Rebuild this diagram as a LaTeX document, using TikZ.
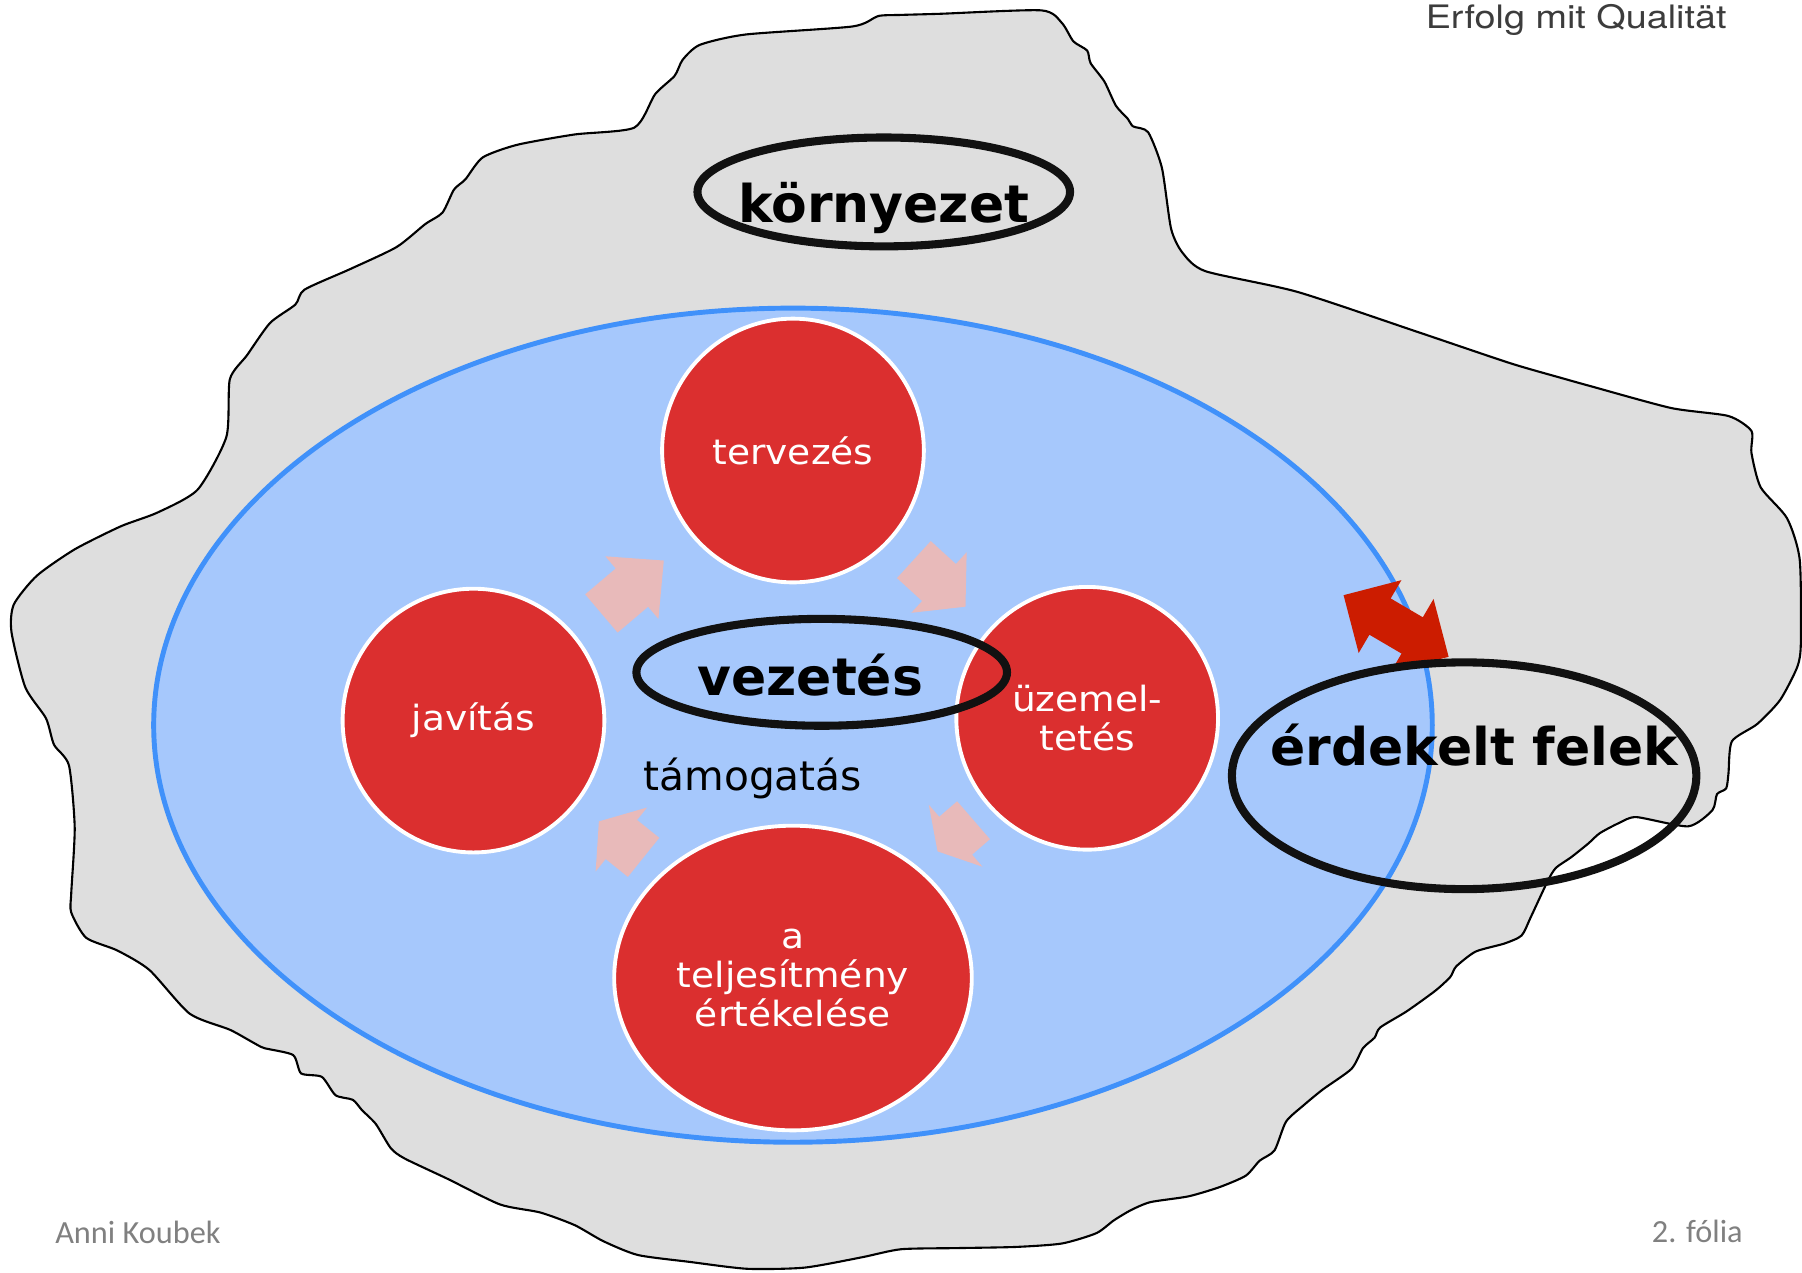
\documentclass[tikz,border=0pt]{standalone}
\usepackage{fontspec}
\setmainfont{DejaVu Sans}
\newfontfamily\circfont[FakeStretch=1.08]{DejaVu Sans}
\newfontfamily\footfont{Carlito}
\newfontfamily\headfont[FakeStretch=1.17]{TeX Gyre Heros}
\usepackage{tikz}
\usetikzlibrary{positioning, shapes.geometric}
\definecolor{blobgray}{RGB}{222,222,222}
\definecolor{orgblue}{RGB}{166,200,252}
\definecolor{orgline}{RGB}{64,145,250}
\definecolor{circred}{RGB}{219,47,47}
\definecolor{pinkarr}{RGB}{232,186,186}
\definecolor{darkred}{RGB}{204,28,0}
\definecolor{ringblack}{RGB}{17,17,17}
\definecolor{footgray}{RGB}{128,128,128}
\definecolor{headgray}{RGB}{60,60,60}

\begin{document}
\begin{tikzpicture}[x=0.0115cm, y=-0.0115cm,
            blob/.style={fill=blobgray, draw=black, line width=0.6pt},
            org/.style={ellipse, fill=orgblue, draw=orgline, line width=1.4pt,
              inner sep=0pt, minimum width=12.8cm, minimum height=8.35cm},
            circ/.style={ellipse, fill=circred, draw=white, line width=1.1pt,
              inner sep=0pt, text=white, align=center,
              font=\circfont\fontsize{9.9}{11.1}\selectfont},
            ring/.style={ellipse, draw=ringblack, line width=2.3pt, inner sep=0pt},
            bigword/.style={font=\fontsize{14.8}{17}\selectfont\bfseries,
              inner sep=0pt, anchor=base},
            foot/.style={font=\footfont\fontsize{9.2}{11}\selectfont,
              text=footgray, inner sep=0pt},
            pics/blockarrow/.style 2 args={code={
              \fill[pinkarr] (0,-21.8) -- (#1,-21.8) -- (#1,-35.7) -- ({#1+#2},0)
                -- (#1,35.7) -- (#1,21.8) -- (0,21.8) -- cycle;}}]
          \useasboundingbox (0,0) rectangle (1568,1107);
          % surroundings
          \draw[blob] plot[smooth cycle, tension=0.4] coordinates {
            (552,111) (570,82) (587,66) (594,52) (609,39) (649,30) (742,23)
            (764,14) (783,13) (818,12) (906,9) (924,20) (934,36) (946,44)
            (949,55) (961,71) (971,92) (981,103) (986,110) (999,115) (1011,146)
            (1019,199) (1029,220) (1049,236) (1129,254) (1234,289) (1314,316)
            (1359,329) (1384,336) (1454,355) (1504,362) (1524,375) (1524,394)
            (1532,424) (1555,451) (1566,487) (1567,559) (1564,580) (1549,609)
            (1529,630) (1507,645) (1504,673) (1502,686) (1494,691) (1490,705)
            (1469,719) (1424,711) (1409,716) (1392,725) (1382,734) (1367,746)
            (1354,755) (1347,766) (1332,798) (1324,814) (1309,821) (1284,828)
            (1267,841) (1262,850) (1249,862) (1224,880) (1201,894) (1196,903)
            (1186,912) (1176,930) (1151,948) (1134,962) (1119,976) (1109,1001)
            (1096,1010) (1084,1023) (1061,1033) (1034,1041) (1001,1046)
            (984,1053) (969,1062) (954,1073) (924,1082) (884,1085) (833,1086)
            (784,1087) (750,1094) (700,1103) (650,1104) (600,1098) (555,1092)
            (525,1080) (500,1066) (470,1055) (435,1048) (390,1026) (352,1008)
            (340,999) (327,978) (315,966) (307,957) (292,953) (280,937)
            (262,934) (255,918) (230,912) (220,907) (200,896) (165,882)
            (130,844) (102,827) (75,816) (62,794) (62,777) (65,720) (60,666)
            (47,648) (40,625) (22,598) (10,550) (12,526) (32,501) (65,478)
            (105,458) (137,446) (172,426) (197,380) (200,330) (215,309)
            (235,281) (257,265) (265,252) (305,234) (345,215) (370,195)
            (385,185) (395,165) (405,156) (420,137) (450,126) (500,117)};
          % organisation and the cycle
          \node[org] (org) at (690,631) {};
          \node[circ, minimum width=2.62cm, minimum height=2.64cm] (plan) at (690,392) {tervezés};
          \node[circ, minimum width=2.62cm, minimum height=2.64cm] (fix) at (412,627) {javítás};
          \node[circ, minimum width=2.62cm, minimum height=2.63cm] (run) at (946,625) {üzemel-\\tetés};
          \node[circ, minimum width=3.58cm, minimum height=3.05cm] (eval) at (690,851) {a\\teljesítmény\\értékelése};
          \pic[rotate=40.3] at (523.3,533.8) {blockarrow={34.8}{36.4}};
          \pic[rotate=-42.4] at (795.2,486.9) {blockarrow={29.6}{31.2}};
          \pic[rotate=-139.1] at (847.1,713.7) {blockarrow={20.6}{20.8}};
          \pic[rotate=141.2] at (560,746) {blockarrow={24.8}{25.1}};
          % exchange with the interested parties
          \fill[darkred, shift={(1214.8,544.7)}, rotate=-30.4]
            (-53,0) -- (-16.2,36.75) -- (-16.2,18.3) -- (16.2,18.3) -- (16.2,36.75)
            -- (53,0) -- (16.2,-36.75) -- (16.2,-18.3) -- (-16.2,-18.3)
            -- (-16.2,-36.75) -- cycle;
          \node[ring, minimum width=3.73cm, minimum height=1.09cm] (env) at (769,167) {};
          \node[ring, minimum width=3.71cm, minimum height=1.07cm] (lead) at (715,585) {};
          \node[ring, minimum width=4.65cm, minimum height=2.27cm] (parties) at (1274,675) {};
          \node[bigword] (envlabel) at (769,194) {környezet};
          \node[bigword] (leadlabel) at (705,605) {vezetés};
          \node[bigword] (partylabel) at (1283,666) {érdekelt felek};
          \node[font=\fontsize{11.6}{14}\selectfont, inner sep=0pt, anchor=base]
            (support) at (655,688) {támogatás};
          % slide frame
          \node[font=\headfont\fontsize{9.2}{11}\selectfont, text=headgray,
            inner sep=0pt, anchor=base west] (head) at (1240,24.4) {Erfolg mit Qualität};
          \node[foot, anchor=base west] (author) at (47.5,1082) {Anni Koubek};
          \node[foot, anchor=base east] (slide) at (1517,1081) {2. fólia};
        \end{tikzpicture}
\end{document}
